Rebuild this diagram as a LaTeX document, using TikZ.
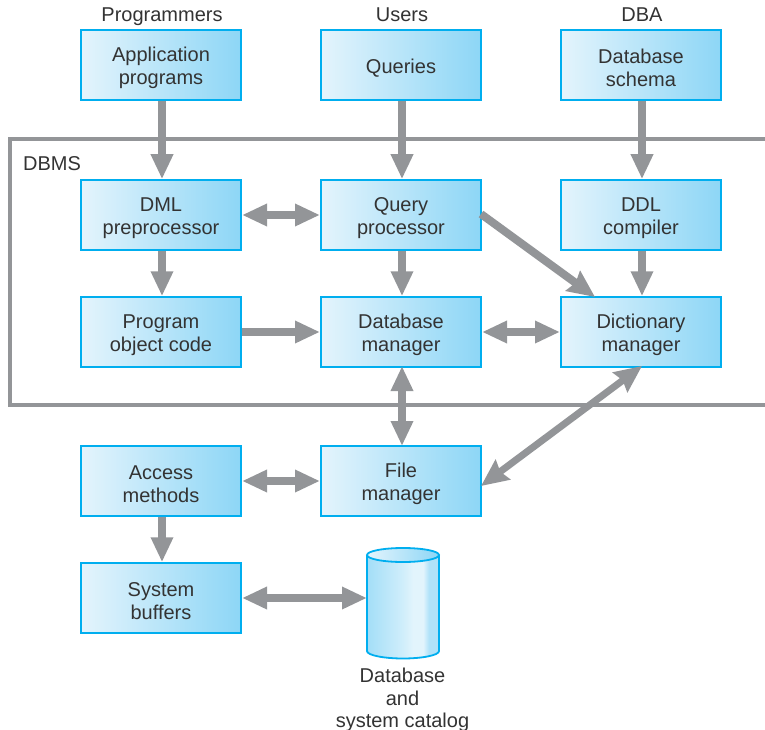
\documentclass[tikz,border=0pt]{standalone}
\usepackage{fontspec}
\setmainfont{Liberation Sans}
\usetikzlibrary{arrows.meta}
\definecolor{boxline}{HTML}{00AEEF}
\definecolor{conn}{HTML}{939598}
\definecolor{txt}{HTML}{333333}
\definecolor{boxl}{HTML}{E4F4FC}
\definecolor{boxr}{HTML}{8DD6F6}
\definecolor{cyla}{HTML}{A3DEF8}
\definecolor{cylb}{HTML}{D0EEFB}
\definecolor{cylc}{HTML}{E2F4FC}
\definecolor{cyld}{HTML}{B0E2F9}
\newcommand{\oneline}{\rule{0pt}{20pt}}
\newcommand{\twoline}{\rule{0pt}{20.5pt}}
\pgfdeclarehorizontalshading{boxfill}{100bp}{
  color(0bp)=(boxl); color(25bp)=(boxl); color(75bp)=(boxr); color(100bp)=(boxr)}
\pgfdeclarehorizontalshading{cylfill}{100bp}{
  color(0bp)=(cyla); color(25bp)=(cyla); color(50bp)=(cylb); color(57bp)=(cylc); color(64bp)=(cylc); color(68bp)=(cyld); color(75bp)=(cyld); color(100bp)=(cyld)}
\tikzset{
  x=1pt, y=-1pt,
  every node/.style={text=txt, font=\fontsize{20}{22.5}\selectfont, inner sep=0pt, align=center},
  box/.style={draw=boxline, line width=2pt, shading=boxfill, minimum width=160pt, minimum height=69.5pt},
  toplab/.style={anchor=base},
  onearrow/.style={draw=conn, line width=7.5pt, -{Triangle[length=25pt,width=21pt]}},
  twoarrow/.style={draw=conn, line width=8pt, {Triangle[length=25pt,width=21pt]}-{Triangle[length=25pt,width=21pt]}},
  diagone/.style={draw=conn, line width=8pt, -{Stealth[length=27pt,width=24pt,inset=3pt]}},
  diagtwo/.style={draw=conn, line width=7pt, {Stealth[length=27pt,width=24pt,inset=3pt]}-{Stealth[length=27pt,width=24pt,inset=3pt]}},
  frameline/.style={draw=conn, line width=3.6pt}
}
\begin{document}
\begin{tikzpicture}
\useasboundingbox (0,0) rectangle (765,730);
\clip (0,0) rectangle (765,730);
% DBMS frame
\coordinate (ftr) at (770,139);
\coordinate (ftl) at (10,139);
\coordinate (fbl) at (10,405);
\coordinate (fbr) at (770,405);
\draw[frameline] (ftr) -- (ftl) -- (fbl) -- (fbr);
\node[toplab] (dbmslabel) at (52,171) {DBMS};
% top labels
\node[toplab] (programmers) at (162,22) {Programmers};
\node[toplab] (users) at (402,22) {Users};
\node[toplab] (dba) at (642,22) {DBA};
% boxes
\node[box] (app) at (161,65) {\twoline Application\\programs};
\node[box] (queries) at (401,65) {\oneline Queries};
\node[box] (schema) at (641,65) {\twoline Database\\schema};
\node[box] (dml) at (161,215) {\twoline DML\\preprocessor};
\node[box] (qp) at (401,215) {\twoline Query\\processor};
\node[box] (ddl) at (641,215) {\twoline DDL\\compiler};
\node[box] (prog) at (161,332) {\twoline Program\\object code};
\node[box] (dbm) at (401,332) {\twoline Database\\manager};
\node[box] (dict) at (641,332) {\twoline Dictionary\\manager};
\node[box] (access) at (161,481) {\twoline Access\\methods};
\node[box] (file) at (401,481) {\twoline File\\manager};
\node[box] (buffers) at (161,598) {\twoline System\\buffers};
% cylinder
\node[minimum width=72pt, minimum height=98pt] (db) at (403,607) {};
\path[shading=cylfill] (367,555) -- (367,651) .. controls (367,655.5) and (385,658.5) .. (403,658.5) .. controls (421,658.5) and (439,655.5) .. (439,651) -- (439,555) -- cycle;
\path[left color=boxl, right color=boxr] (403,555) ellipse[x radius=36, y radius=7];
\draw[boxline, line width=1.8pt] (367,555) -- (367,651) .. controls (367,655.5) and (385,658.5) .. (403,658.5) .. controls (421,658.5) and (439,655.5) .. (439,651) -- (439,555);
\draw[boxline, line width=1.8pt] (403,555) ellipse[x radius=36, y radius=7];
\node (dbcap) at (402.5,700) {Database\\and\\system catalog};
% anchors for diagonals
\coordinate (qpout) at (481,214);
\coordinate (dictin) at (595,297);
\coordinate (dictbot) at (642,366);
\coordinate (fileout) at (481,486);
\coordinate (filetop) at (402,446);
\coordinate (dbmbot) at (402,366);
\coordinate (dbin) at (367,598);
% connectors
\draw[onearrow] ([xshift=1pt]app.south) -- ([xshift=1pt]dml.north);
\draw[onearrow] ([xshift=1pt]queries.south) -- ([xshift=1pt]qp.north);
\draw[onearrow] ([xshift=1pt]schema.south) -- ([xshift=1pt]ddl.north);
\draw[onearrow] ([xshift=1pt]dml.south) -- ([xshift=1pt]prog.north);
\draw[onearrow] ([xshift=1pt]qp.south) -- ([xshift=1pt]dbm.north);
\draw[onearrow] ([xshift=1pt]ddl.south) -- ([xshift=1pt]dict.north);
\draw[onearrow] (prog.east) -- (dbm.west);
\draw[onearrow] ([xshift=1pt]access.south) -- ([xshift=1pt]buffers.north);
\draw[twoarrow] (dml.east) -- (qp.west);
\draw[twoarrow] (dbm.east) -- (dict.west);
\draw[twoarrow] (access.east) -- (file.west);
\draw[twoarrow] (dbmbot) -- (filetop);
\draw[twoarrow] (buffers.east) -- (dbin);
\draw[diagone] (qpout) -- (dictin);
\draw[diagtwo] (dictbot) -- (fileout);
\end{tikzpicture}
\end{document}
